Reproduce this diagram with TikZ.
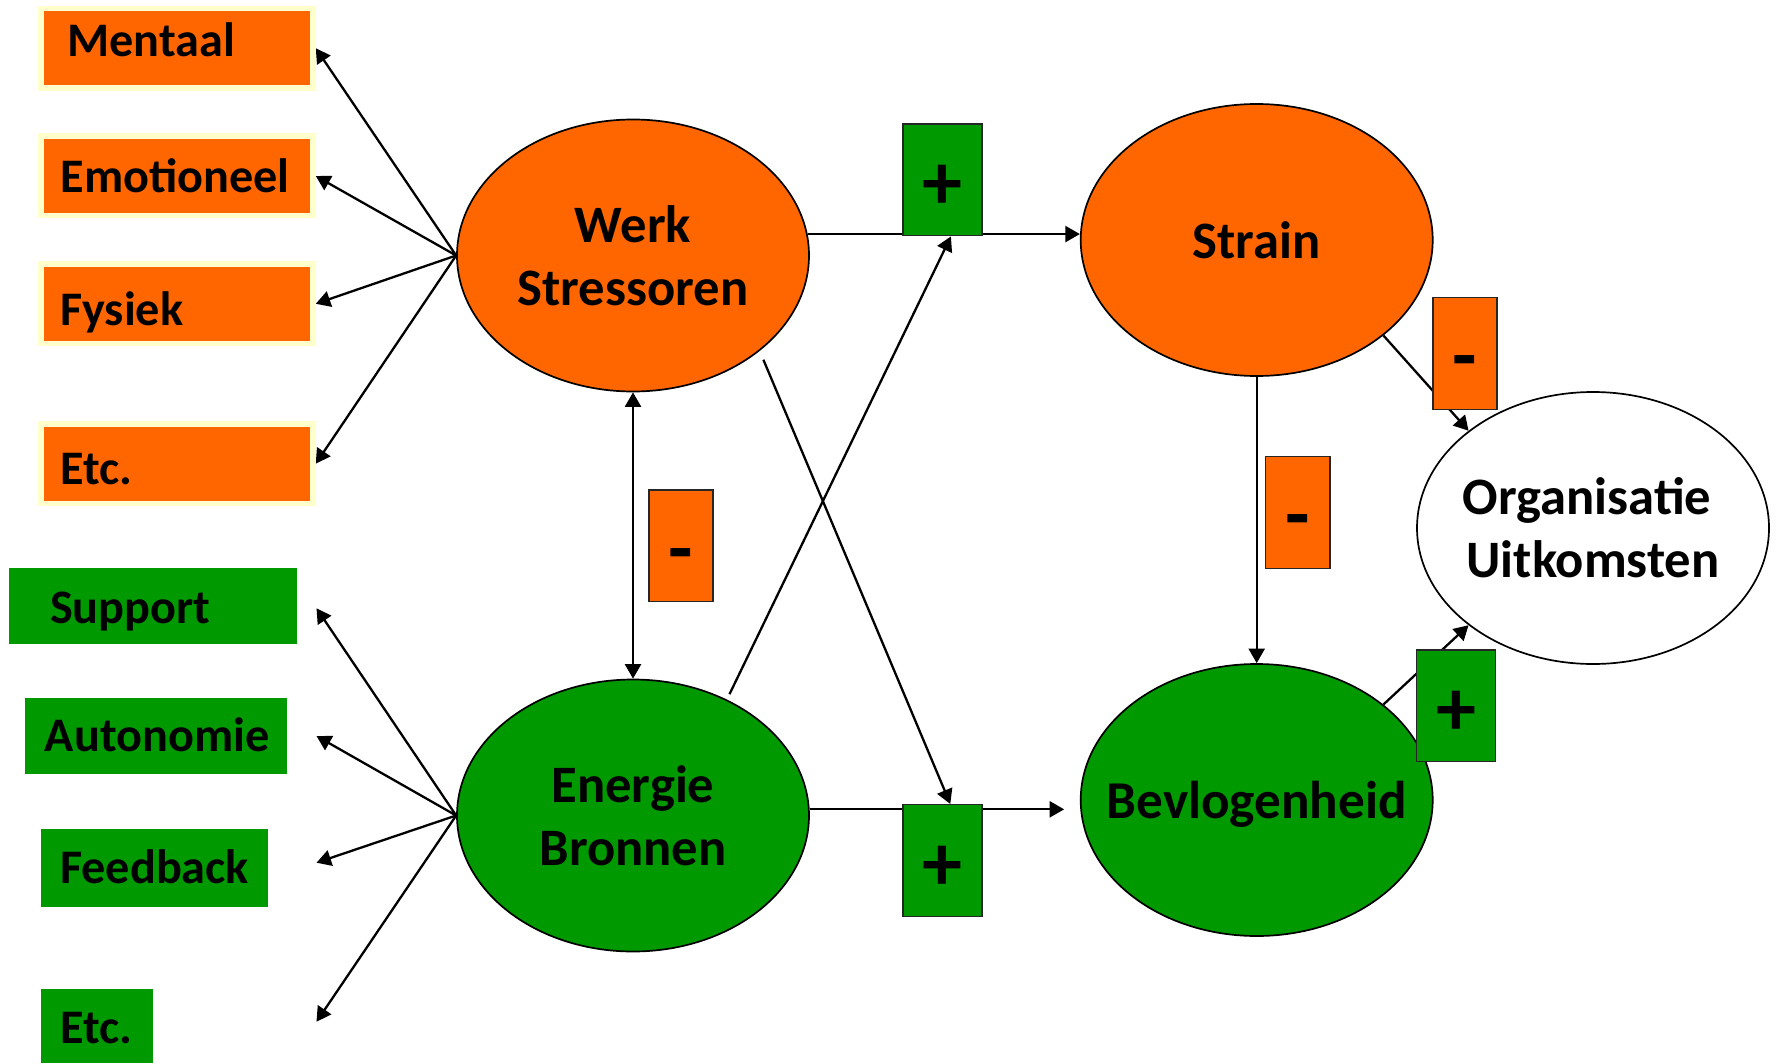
\documentclass[tikz,border=0pt]{standalone}
\usepackage{fontspec}
\setmainfont{Carlito}
\usetikzlibrary{shapes.geometric,arrows.meta,backgrounds}

\definecolor{jdorange}{HTML}{FF6600}
\definecolor{jdgreen}{HTML}{009900}
\definecolor{jdglow}{HTML}{FFFFCC}

% left-aligned box label: width, left inset, vertical shift, text
\newcommand\padtext[4]{\makebox[#1][l]{\hspace*{#2}\raisebox{#3}{#4}}}

\begin{document}
\begin{tikzpicture}[x=0.5pt,y=-0.5pt,
  boxtext/.style={inner sep=0pt, font=\fontsize{24.1pt}{29pt}\selectfont\bfseries,
    text height=15.2pt, text depth=0pt},
  stressbox/.style={boxtext, rectangle, fill=jdorange, draw=jdglow, line width=2.75pt,
    minimum width=136pt, minimum height=39.75pt},
  resbox/.style={boxtext, rectangle, fill=jdgreen},
  bubble/.style={ellipse, draw=black, line width=0.85pt, inner sep=0pt,
    minimum width=176pt, minimum height=136pt},
  bubbletext/.style={inner sep=0pt, align=center,
    font=\fontsize{26.3pt}{31.65pt}\selectfont\bfseries},
  signbox/.style={rectangle, draw=black!85, line width=0.75pt, inner sep=0pt,
    minimum height=55.8pt, text height=0pt, text depth=0pt,
    font=\fontsize{40pt}{40pt}\selectfont\bfseries},
  plusbox/.style={signbox, fill=jdgreen, minimum width=39.5pt},
  minbox/.style={signbox, fill=jdorange, minimum width=32.2pt},
  tip/.tip={Triangle[length=7.25pt,width=8pt]},
  link/.style={line width=1.15pt, -tip},
]
\useasboundingbox (0,0) rectangle (1776,1064);

% central constructs
\node[bubble, fill=jdorange, label={[bubbletext]center:{Werk\\Stressoren}}] (werk) at (633,255.5) {};
\node[bubble, fill=jdorange, label={[bubbletext]center:{Strain}}] (strain) at (1256.7,240) {};
\node[bubble, fill=jdgreen, label={[bubbletext]center:{Energie\\Bronnen}}] (enr) at (633,815.5) {};
\node[bubble, fill=jdgreen, label={[bubbletext, text depth=0pt, font=\fontsize{26.6pt}{31.65pt}\selectfont\bfseries]center:{Bevlogenheid}}] (bevl) at (1256.7,800) {};
\node[bubble, fill=white, label={[bubbletext]center:{Organisatie\kern6pt\\Uitkomsten}}] (org) at (1593,528) {};

% job demands
\node[stressbox] (mentaal) at (177,48.2)  {\padtext{136pt}{13.25pt}{3.65pt}{Mentaal}};
\node[stressbox] (emo)     at (177,176)   {\padtext{136pt}{9.8pt}{-0.45pt}{Emotioneel}};
\node[stressbox] (fys)     at (177,303.8) {\padtext{136pt}{9.6pt}{-3.1pt}{Fysiek}};
\node[stressbox] (etcA)    at (177,463.7) {\padtext{136pt}{9.6pt}{-2.9pt}{Etc.}};

% job resources
\node[resbox, minimum width=143.9pt, minimum height=38.15pt] (support) at (153.1,606.2) {\padtext{143.9pt}{20.5pt}{-0.9pt}{Support}};
\node[resbox, minimum width=131.05pt, minimum height=38.3pt] (auton) at (156,736) {\padtext{131.05pt}{10pt}{0pt}{Autonomie}};
\node[resbox, minimum width=113.5pt, minimum height=38.7pt] (feedb) at (154.5,868) {\padtext{113.5pt}{9.6pt}{0pt}{Feedback}};
\node[resbox, minimum width=56pt, minimum height=37pt] (etcB) at (97,1026) {\padtext{56pt}{9.6pt}{-1.15pt}{Etc.}};

\coordinate (tSup) at (316.5,608.3);
\coordinate (tAut) at (316.5,736);
\coordinate (tFee) at (316.5,862.7);
\coordinate (tEtc) at (316.5,1021.7);

% sign markers
\node[plusbox] (plusT) at (942.4,179.9) {\raisebox{-15pt}{+}};
\node[plusbox] (plusB) at (942.5,860.5) {\raisebox{-15pt}{+}};
\node[plusbox] (plusR) at (1456.1,705.9) {\raisebox{-15pt}{+}};
\node[minbox] (minusL) at (681,545.9) {\raisebox{-14.6pt}{-}};
\node[minbox] (minusM) at (1297.8,512.5) {\raisebox{-14.6pt}{-}};
\node[minbox] (minusR) at (1465,353.5) {\raisebox{-14.6pt}{-}};

\begin{pgfonlayer}{background}
  \fill[white] (0,0) rectangle (1776,1064);
  % fans to the categories
  \foreach \t in {mentaal,emo,fys,etcA} \draw[link] (werk.west) -- (\t.east);
  \foreach \t in {tSup,tAut,tFee,tEtc} \draw[link] (enr.west) -- (\t);
  % paths
  \draw[link] (werk.7.8) -- (werk.7.8 -| strain.west);
  \draw[link, shorten >=7.85pt] (enr.2.5) -- (enr.2.5 -| bevl.west);
  \draw[link, shorten <=3pt] (enr.51) -- ([xshift=4.25pt]plusT.south);
  \draw[link, shorten <=4.75pt] (werk.-37.6) -- ([xshift=3.9pt]plusB.north);
  \draw[link, tip-tip] (werk.south) -- (enr.north);
  \draw[link] (strain.south) -- (bevl.north);
  \draw[link] (strain.-37.8) -- (org.142.2);
  \draw[link] (bevl.37.8) -- (org.-142.2);
\end{pgfonlayer}
\end{tikzpicture}
\end{document}
